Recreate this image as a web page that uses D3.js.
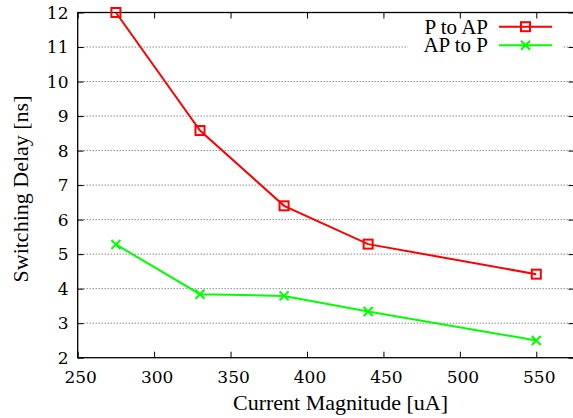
<!DOCTYPE html>
<html>
<head>
<meta charset="utf-8">
<script src="https://cdn.jsdelivr.net/npm/d3@7"></script>
<style>
  html, body { margin: 0; padding: 0; background: #fff; }
  svg { display: block; }
</style>
</head>
<body>
<svg id="chart" width="573" height="418"></svg>
<script>
// ---- data ----
const currents = [275, 330, 385, 440, 550];
const pToAP = [12.0, 8.58, 6.40, 5.29, 4.42];
const apToP = [5.28, 3.84, 3.79, 3.34, 2.50];
const xTicks = [250, 300, 350, 400, 450, 500, 550];
const yTicks = [2, 3, 4, 5, 6, 7, 8, 9, 10, 11, 12];
const seriesNames = ["P to AP", "AP to P"];
const xTitle = "Current Magnitude [uA]";
const yTitle = "Switching Delay [ns]";

// ---- layout ----
const L = 77.7, R = 574.5, T = 12.5, B = 357.7;

const svg = d3.select("#chart");
const x = d3.scaleLinear().domain([250, 575]).range([L, R]);
const y = d3.scaleLinear().domain([2, 12]).range([B, T]);

function txt(sel) {
  return sel.attr("font-family", "Liberation Serif").style("font-family", "'Liberation Serif'").attr("fill", "#000");
}
function num(sel) {
  return sel.attr("font-family", "DejaVu Serif").style("font-family", "'DejaVu Serif'").attr("fill", "#000");
}

// grid (horizontal dotted)
svg.append("g").selectAll("line")
  .data(yTicks.filter(v => v > 2 && v < 12))
  .join("line")
  .attr("x1", L).attr("x2", R)
  .attr("y1", d => y(d)).attr("y2", d => y(d))
  .attr("stroke", "#555").attr("stroke-width", 1)
  .attr("stroke-dasharray", "1,2");

// legend background (opaque box hiding grid)
svg.append("rect").attr("x", 408).attr("y", 16).attr("width", 155).attr("height", 40).attr("fill", "#fff");

// axes: inward ticks only (labels drawn separately)
const tickLen = 6;
function styleAxis(g) {
  g.select(".domain").remove();
  g.selectAll(".tick line").attr("stroke", "#000").attr("stroke-width", 1);
  g.selectAll(".tick text").remove();
}
svg.append("g").attr("transform", `translate(0,${B})`)
  .call(d3.axisBottom(x).tickValues(xTicks).tickSize(-tickLen)).call(styleAxis);
svg.append("g").attr("transform", `translate(0,${T})`)
  .call(d3.axisTop(x).tickValues(xTicks).tickSize(-tickLen)).call(styleAxis);
svg.append("g").attr("transform", `translate(${L},0)`)
  .call(d3.axisLeft(y).tickValues(yTicks).tickSize(-tickLen)).call(styleAxis);
svg.append("g").attr("transform", `translate(${R},0)`)
  .call(d3.axisRight(y).tickValues(yTicks).tickSize(-tickLen)).call(styleAxis);

// tick labels
svg.append("g").selectAll("text").data(xTicks).join("text")
  .attr("x", d => x(d) + 3).attr("y", 383)
  .attr("text-anchor", "middle").style("font-size", "17px")
  .call(num).text(d => d3.format("d")(d));
svg.append("g").selectAll("text").data(yTicks).join("text")
  .attr("x", 68.5).attr("y", d => y(d)).attr("dy", "0.36em")
  .attr("text-anchor", "end").style("font-size", "17px")
  .call(num).text(d => d3.format("d")(d));

// border
svg.append("rect").attr("x", L).attr("y", T).attr("width", R - L).attr("height", B - T)
  .attr("fill", "none").attr("stroke", "#000").attr("stroke-width", 1.3);

// axis titles
svg.append("text").attr("x", 340.5).attr("y", 410)
  .attr("text-anchor", "middle").style("font-size", "22px").call(txt)
  .text(xTitle);
svg.append("text").attr("transform", `translate(28,189) rotate(-90)`)
  .attr("text-anchor", "middle").style("font-size", "22px").call(txt)
  .text(yTitle);

// series
const line = d3.line().x(d => x(d[0])).y(d => y(d[1]));
const colors = ["#ff0000", "#00ff00"];
const dataSets = [pToAP, apToP].map(s => currents.map((c, i) => [c, s[i]]));

function drawSquare(g, cx, cy, col) {
  g.append("rect").attr("x", cx - 4.5).attr("y", cy - 4.5).attr("width", 9).attr("height", 9)
    .attr("fill", "none").attr("stroke", col).attr("stroke-width", 2);
}
function drawCross(g, cx, cy, col) {
  const s = 4.5;
  g.append("path").attr("d", `M${cx - s},${cy - s}L${cx + s},${cy + s}M${cx - s},${cy + s}L${cx + s},${cy - s}`)
    .attr("stroke", col).attr("stroke-width", 2).attr("fill", "none");
}
const markers = [drawSquare, drawCross];

dataSets.forEach((ds, k) => {
  svg.append("path").datum(ds).attr("d", line)
    .attr("fill", "none").attr("stroke", colors[k]).attr("stroke-width", 2);
  const g = svg.append("g");
  ds.forEach(d => markers[k](g, x(d[0]), y(d[1]), colors[k]));
});

// legend
const legRows = [26.7, 45.3];
seriesNames.forEach((name, k) => {
  const yy = legRows[k];
  svg.append("text").attr("x", 488).attr("y", yy).attr("dy", "0.33em")
    .attr("text-anchor", "end").style("font-size", "21px").call(txt).text(name);
  svg.append("line").attr("x1", 499).attr("x2", 552).attr("y1", yy).attr("y2", yy)
    .attr("stroke", colors[k]).attr("stroke-width", 2);
  markers[k](svg, 525.5, yy, colors[k]);
});
</script>
</body>
</html>
